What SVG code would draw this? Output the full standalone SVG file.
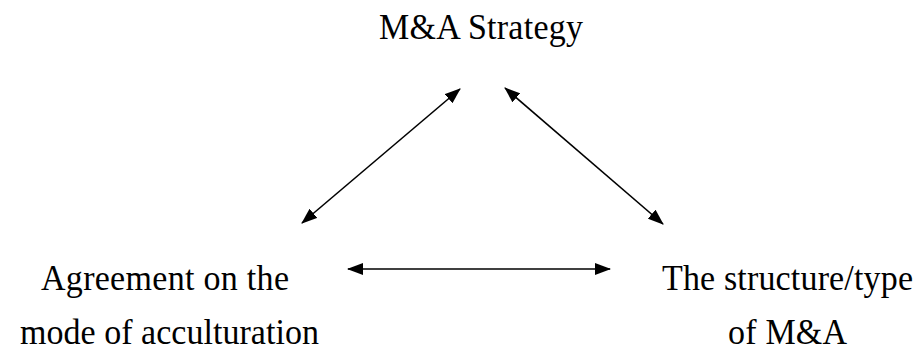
<svg xmlns="http://www.w3.org/2000/svg" width="919" height="352" viewBox="0 0 919 352">
<style>
.t{font-family:"Liberation Serif","Times New Roman",serif;font-size:34px;fill:#000}
.c{stroke:#000;stroke-width:1.6;fill:none;marker-start:url(#ah);marker-end:url(#ah)}
</style>
<defs>
<marker id="ah" viewBox="0 0 16 12" refX="15" refY="6" markerWidth="16" markerHeight="12" markerUnits="userSpaceOnUse" orient="auto-start-reverse">
<path d="M0,0 L16,6 L0,12 Z" fill="#000"/>
</marker>
</defs>
<rect width="919" height="352" fill="#fff"/>
<g id="node-strategy"><text class="t" transform="translate(379,39) scale(1,1.08)" textLength="204">M&amp;A Strategy</text></g>
<g id="node-agreement">
<text class="t" transform="translate(41,290) scale(1,1.08)" textLength="248">Agreement on the</text>
<text class="t" transform="translate(20,344) scale(1,1.08)" textLength="299">mode of acculturation</text>
</g>
<g id="node-structure">
<text class="t" transform="translate(662,290) scale(1,1.08)" textLength="251">The structure/type</text>
<text class="t" transform="translate(728,344) scale(1,1.08)" textLength="119">of M&amp;A</text>
</g>
<g id="connectors">
<line class="c" x1="302" y1="223" x2="460" y2="89"/>
<line class="c" x1="505" y1="88" x2="663" y2="224"/>
<line class="c" x1="348" y1="269" x2="610" y2="269"/>
</g>
</svg>
